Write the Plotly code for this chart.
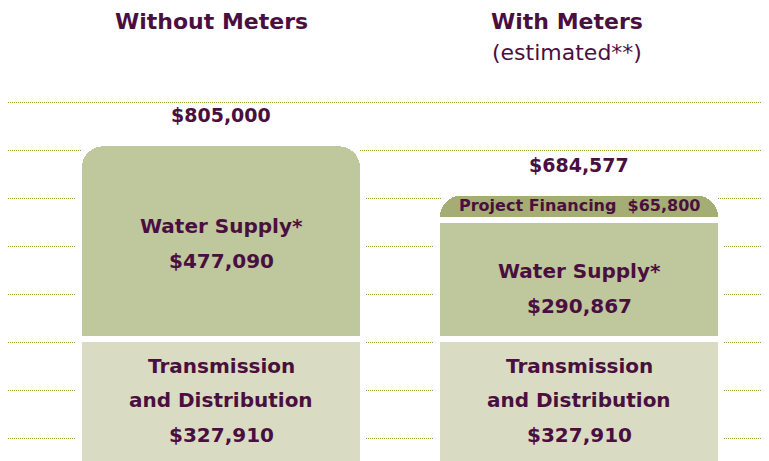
import plotly.graph_objects as go

# ---- data ----
scenarios = ["Without Meters", "With Meters"]
transmission_distribution = [327910, 327910]
water_supply = [477090, 290867]
project_financing = [None, 65800]
totals = [805000, 684577]
header_titles = ["Without Meters", "With Meters"]
header_notes = ["", "(estimated**)"]

# ---- styles ----
TEXT = "#4b0f3f"
C_TD = "#d9dcc3"
C_WS = "#bfc79c"
C_PF = "#a4ad73"
GRID = "#8ea43a"
FONT = "DejaVu Sans"

fig = go.Figure()
fig.add_trace(go.Bar(x=scenarios, y=transmission_distribution, name="Transmission and Distribution",
                     marker=dict(color=C_TD, line=dict(color="white", width=6)), width=0.793))
fig.add_trace(go.Bar(x=scenarios, y=water_supply, name="Water Supply",
                     marker=dict(color=C_WS, line=dict(color="white", width=6), cornerradius=24), width=0.793))
fig.add_trace(go.Bar(x=scenarios, y=project_financing, name="Project Financing",
                     marker=dict(color=C_PF, line=dict(color="white", width=6), cornerradius=24), width=0.793))

def fmt(v):
    return "${:,.0f}".format(v)

def add_lines(x, y, lines, size, shift=0, spacing=34.5):
    n = len(lines)
    for i, ln in enumerate(lines):
        off = ((n - 1) / 2 - i) * spacing + shift
        fig.add_annotation(x=x, y=y, xref="x", yref="y", text="<b>" + ln + "</b>",
                           showarrow=False, yshift=off, yanchor="middle",
                           font=dict(family=FONT, size=size, color=TEXT))

for i, sc in enumerate(scenarios):
    td = transmission_distribution[i]
    ws = water_supply[i]
    add_lines(sc, td / 2, ["Transmission", "and Distribution", fmt(td)], 20, shift=6)
    add_lines(sc, td + ws / 2, ["Water Supply*", fmt(ws)], 20, shift=(-2 if i == 0 else -9), spacing=35)
    pf = project_financing[i]
    if pf:
        fig.add_annotation(x=sc, y=td + ws + pf / 2, xref="x", yref="y",
                           text="<b>Project Financing&nbsp;&nbsp;" + fmt(pf) + "</b>",
                           showarrow=False, yshift=1, yanchor="middle",
                           font=dict(family=FONT, size=16, color=TEXT))
    fig.add_annotation(x=sc, y=totals[i], xref="x", yref="y", text="<b>" + fmt(totals[i]) + "</b>",
                       showarrow=False, yshift=28, yanchor="middle",
                       font=dict(family=FONT, size=19, color=TEXT))
    # headers
    fig.add_annotation(x=sc, y=1.1833, xref="x", yref="paper", text="<b>" + header_titles[i] + "</b>",
                       showarrow=False, xshift=-10 if i == 0 else -12, yanchor="middle",
                       font=dict(family=FONT, size=22, color=TEXT))
    if header_notes[i]:
        fig.add_annotation(x=sc, y=1.0998, xref="x", yref="paper", text=header_notes[i],
                           showarrow=False, xshift=-12, yanchor="middle",
                           font=dict(family=FONT, size=22, color=TEXT))

fig.update_layout(
    barmode="stack",
    width=761, height=453,
    margin=dict(l=0, r=0, t=82, b=0),
    plot_bgcolor="white", paper_bgcolor="white",
    showlegend=False,
    xaxis=dict(range=[-0.595, 1.5307], showticklabels=False, showgrid=False,
               zeroline=False, showline=False, ticks=""),
    yaxis=dict(range=[30000, 935000], showticklabels=False, zeroline=False, showline=False,
               showgrid=True, gridcolor=GRID, gridwidth=1, griddash="1px,1px",
               tick0=86000, dtick=117000, ticks=""),
)

fig.write_html("out.html")
